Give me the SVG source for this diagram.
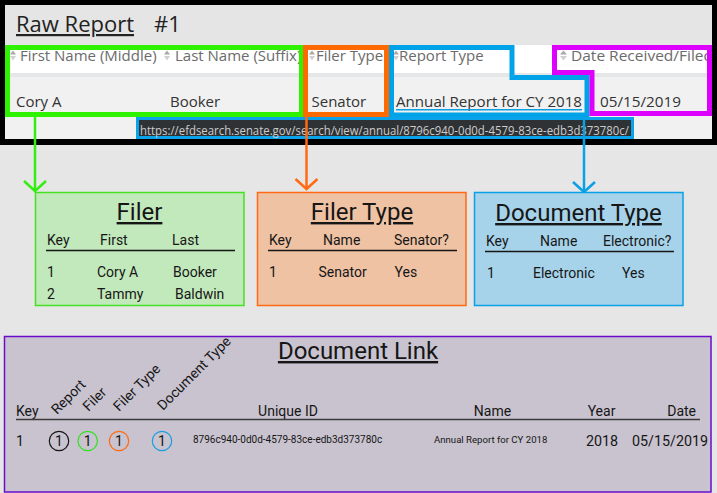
<svg xmlns="http://www.w3.org/2000/svg" width="717" height="493" viewBox="0 0 717 493">
  <defs>
    <style>
      .ui { font-family: "Open Sans", "Noto Sans", "Liberation Sans", sans-serif; }
      .rb { font-family: Roboto, "Liberation Sans", sans-serif; fill: #161616; }
      .hdr { font-size: 15px; fill: #6b6b6b; }
      .dat { font-size: 15px; fill: #333; }
      .ttl { font-size: 24px; text-decoration: underline; }
      .t14 { font-size: 14px; }
      .frame { fill: none; stroke-width: 5; }
      .sortU { fill: #a8a8a8; }
      .sortD { fill: #d0d0d0; }
      .rule { stroke: #161616; stroke-width: 1.5; }
      .conn { fill: none; stroke-width: 2.5; }
      .box { stroke-width: 1.5; }
      .ring { fill: none; stroke-width: 1.2; }
    </style>
    <marker id="arG" markerUnits="userSpaceOnUse" viewBox="-13 -13 16 26" markerWidth="16" markerHeight="26" refX="0" refY="0" orient="auto">
      <path d="M-10,-11 L0,0 L-10,11" fill="none" stroke="#33ee11" stroke-width="2.5"/>
    </marker>
    <marker id="arO" markerUnits="userSpaceOnUse" viewBox="-13 -13 16 26" markerWidth="16" markerHeight="26" refX="0" refY="0" orient="auto">
      <path d="M-10,-11 L0,0 L-10,11" fill="none" stroke="#ff6a13" stroke-width="2.5"/>
    </marker>
    <marker id="arB" markerUnits="userSpaceOnUse" viewBox="-13 -13 16 26" markerWidth="16" markerHeight="26" refX="0" refY="0" orient="auto">
      <path d="M-10,-11 L0,0 L-10,11" fill="none" stroke="#0aa0e6" stroke-width="2.5"/>
    </marker>
    <clipPath id="rowClip">
      <rect x="5" y="45" width="702" height="70"/>
    </clipPath>
  </defs>

  <rect x="0" y="0" width="717" height="493" fill="#e6e6e6"/>

  <g id="raw-report">
    <rect x="0" y="0" width="717" height="145" fill="#000"/>
    <rect x="5" y="5" width="707" height="134" fill="#e5e5e5"/>
    <rect x="5" y="45" width="707" height="28" fill="#ffffff"/>
    <rect x="5" y="73" width="707" height="4" fill="#e4e6e8"/>
    <rect x="5" y="77" width="707" height="62" fill="#f1f1f1"/>
    <text class="ui" x="16" y="32" font-size="22" fill="#222" text-decoration="underline">Raw Report</text>
    <text class="ui" x="154" y="32" font-size="22" fill="#222">#1</text>

    <g clip-path="url(#rowClip)">
      <polygon class="sortU" points="10,54.5 13,50.5 16,54.5"/>
      <polygon class="sortD" points="10,56 16,56 13,60.5"/>
      <polygon class="sortU" points="164,54.5 167,50.5 170,54.5"/>
      <polygon class="sortD" points="164,56 170,56 167,60.5"/>
      <polygon class="sortU" points="309,54.5 312,50.5 315,54.5"/>
      <polygon class="sortD" points="309,56 315,56 312,60.5"/>
      <polygon class="sortU" points="393,54.5 396,50.5 399,54.5"/>
      <polygon class="sortD" points="393,56 399,56 396,60.5"/>
      <polygon class="sortU" points="560,54.5 563.5,50.5 567,54.5"/>
      <polygon class="sortD" points="560,56 567,56 563.5,60.5"/>
      <text class="ui hdr" x="20" y="61">First Name (Middle)</text>
      <text class="ui hdr" x="175" y="61">Last Name (Suffix)</text>
      <text class="ui hdr" x="316" y="61">Filer Type</text>
      <text class="ui hdr" x="399" y="61">Report Type</text>
      <text class="ui hdr" x="571" y="61" textLength="142" lengthAdjust="spacingAndGlyphs">Date Received/Filed</text>
      <text class="ui dat" x="16" y="107">Cory A</text>
      <text class="ui dat" x="170" y="107">Booker</text>
      <text class="ui dat" x="311.5" y="107">Senator</text>
      <text class="ui dat" x="396" y="107" fill="#2d3e50" textLength="186" lengthAdjust="spacingAndGlyphs">Annual Report for CY 2018</text>
      <text class="ui dat" x="600" y="107" textLength="81" lengthAdjust="spacingAndGlyphs">05/15/2019</text>
    </g>
    <line x1="396" y1="109.8" x2="582" y2="109.8" stroke="#0aa0e6" stroke-width="1.6"/>

    <rect x="7.5" y="47.5" width="294" height="67" class="frame" stroke="#2ef200"/>
    <rect x="305.5" y="47.5" width="81" height="67" class="frame" stroke="#ff6a00"/>
    <path d="M391.5,47.5 H512 V77.5 H587 V115 H391.5 Z" class="frame" stroke="#00a2e8"/>
    <path d="M554.5,47.5 H709.5 V113.5 H592 V72.5 H554.5 Z" class="frame" stroke="#dd00ff"/>

    <rect x="137.5" y="118.5" width="495" height="19" fill="#2f3235" stroke="#0aa2e8" stroke-width="3"/>
    <text class="ui" x="140" y="135" font-size="12.5" fill="#cdcdcd" textLength="489" lengthAdjust="spacingAndGlyphs">https://efdsearch.senate.gov/search/view/annual/8796c940-0d0d-4579-83ce-edb3d373780c/</text>
  </g>

  <g id="connectors">
    <line class="conn" x1="35" y1="117" x2="35" y2="191" stroke="#33ee11" marker-end="url(#arG)"/>
    <line class="conn" x1="306.5" y1="117" x2="306.5" y2="189" stroke="#ff6a13" marker-end="url(#arO)"/>
    <line class="conn" x1="584" y1="115" x2="584" y2="192" stroke="#0aa0e6" marker-end="url(#arB)"/>
  </g>

  <g id="filer">
    <rect class="box" x="35.5" y="192.5" width="208.5" height="113" fill="#c2e9bb" stroke="#44e022"/>
    <text class="rb ttl" x="139.5" y="220" text-anchor="middle">Filer</text>
    <text class="rb t14" x="47" y="245">Key</text>
    <text class="rb t14" x="100" y="245">First</text>
    <text class="rb t14" x="172" y="245">Last</text>
    <line class="rule" x1="46" y1="250.5" x2="235" y2="250.5"/>
    <text class="rb t14" x="47" y="277">1</text>
    <text class="rb t14" x="97" y="277">Cory A</text>
    <text class="rb t14" x="173" y="277">Booker</text>
    <text class="rb t14" x="47" y="299">2</text>
    <text class="rb t14" x="97" y="299">Tammy</text>
    <text class="rb t14" x="175" y="299">Baldwin</text>
  </g>

  <g id="filer-type">
    <rect class="box" x="257.5" y="192.5" width="208.5" height="113" fill="#efc2a3" stroke="#ff6a13"/>
    <text class="rb ttl" x="362" y="220" text-anchor="middle">Filer Type</text>
    <text class="rb t14" x="269" y="245">Key</text>
    <text class="rb t14" x="323" y="245">Name</text>
    <text class="rb t14" x="394" y="245">Senator?</text>
    <line class="rule" x1="268" y1="250.5" x2="457" y2="250.5"/>
    <text class="rb t14" x="269" y="277">1</text>
    <text class="rb t14" x="318.5" y="277">Senator</text>
    <text class="rb t14" x="394.5" y="277">Yes</text>
  </g>

  <g id="document-type">
    <rect class="box" x="474.5" y="192.5" width="208.5" height="113" fill="#a6d3ea" stroke="#0aa0e6"/>
    <text class="rb ttl" x="578.5" y="221" text-anchor="middle">Document Type</text>
    <text class="rb t14" x="486" y="246">Key</text>
    <text class="rb t14" x="540" y="246">Name</text>
    <text class="rb t14" x="603" y="246">Electronic?</text>
    <line class="rule" x1="485" y1="251.5" x2="674" y2="251.5"/>
    <text class="rb t14" x="487" y="278">1</text>
    <text class="rb t14" x="533" y="278">Electronic</text>
    <text class="rb t14" x="622" y="278">Yes</text>
  </g>

  <g id="document-link">
    <rect class="box" x="4.5" y="336.5" width="706.5" height="155.5" fill="#c9c3cf" stroke="#6a0dca"/>
    <text class="rb ttl" x="358" y="359" text-anchor="middle">Document Link</text>
    <text class="rb t14" x="16" y="416">Key</text>
    <text class="rb t14" transform="translate(57,415) rotate(-45)">Report</text>
    <text class="rb t14" transform="translate(88.5,412) rotate(-45)">Filer</text>
    <text class="rb t14" transform="translate(119,412) rotate(-45)">Filer Type</text>
    <text class="rb t14" transform="translate(163,411) rotate(-45)">Document Type</text>
    <text class="rb t14" x="288" y="416" text-anchor="middle">Unique ID</text>
    <text class="rb t14" x="492.5" y="416" text-anchor="middle">Name</text>
    <text class="rb t14" x="601.5" y="416" text-anchor="middle">Year</text>
    <text class="rb t14" x="696" y="416" text-anchor="end">Date</text>
    <line x1="16" y1="419.5" x2="700" y2="419.5" stroke="#3a3a3a" stroke-width="1.5"/>
    <text class="rb t14" x="16" y="446">1</text>
    <circle class="ring" cx="59" cy="441" r="9.7" stroke="#161616"/>
    <text class="rb t14" x="59" y="446" text-anchor="middle">1</text>
    <circle class="ring" cx="87.7" cy="441" r="9.7" stroke="#33e022"/>
    <text class="rb t14" x="87.7" y="446" text-anchor="middle">1</text>
    <circle class="ring" cx="119" cy="441" r="9.7" stroke="#ff6a13"/>
    <text class="rb t14" x="119" y="446" text-anchor="middle">1</text>
    <circle class="ring" cx="162" cy="441" r="9.7" stroke="#1a9ee0"/>
    <text class="rb t14" x="162" y="446" text-anchor="middle">1</text>
    <text class="rb" x="193" y="443.3" font-size="10">8796c940-0d0d-4579-83ce-edb3d373780c</text>
    <text class="rb" x="434" y="443.3" font-size="9.6">Annual Report for CY 2018</text>
    <text class="rb" x="586" y="446" font-size="14.3">2018</text>
    <text class="rb" x="632" y="446" font-size="14.3">05/15/2019</text>
  </g>
</svg>
